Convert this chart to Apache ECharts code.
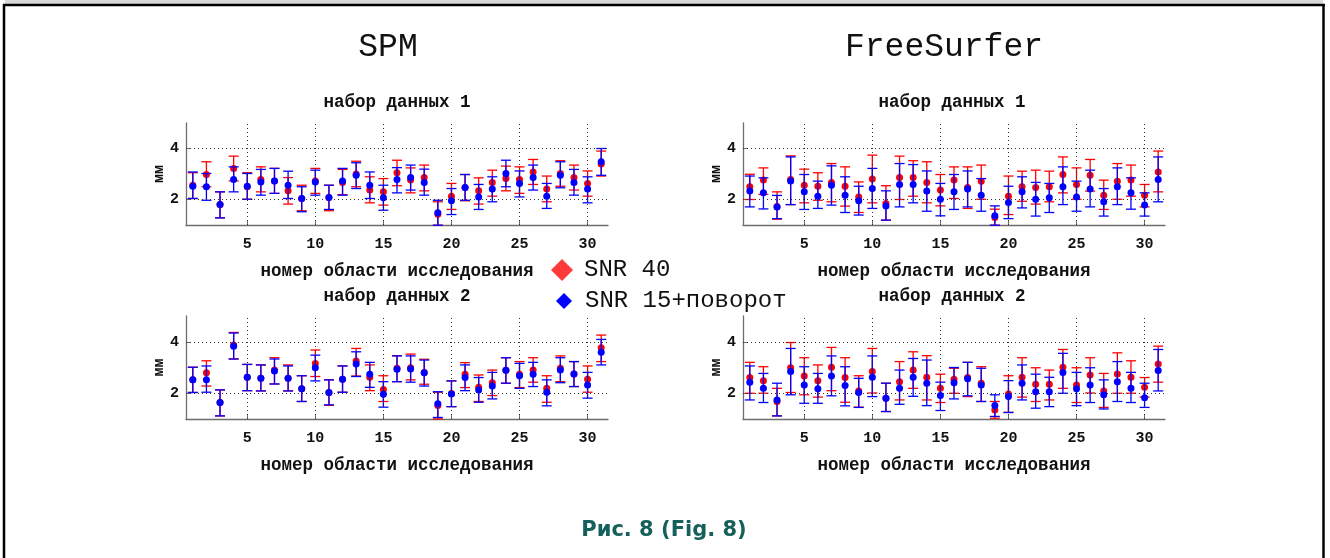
<!DOCTYPE html>
<html><head><meta charset="utf-8">
<script src="https://cdn.jsdelivr.net/npm/echarts@6/dist/echarts.min.js"></script>
<style>html,body{margin:0;padding:0;background:#fff}#c{width:1330px;height:558px}</style>
</head><body><div id="c"></div>
<script>
const regionIds = [1,2,3,4,5,6,7,8,9,10,11,12,13,14,15,16,17,18,19,20,21,22,23,24,25,26,27,28,29,30,31];
const xTicks = [5,10,15,20,25,30];
const yTicks = [2,4];
const seriesNames = ['SNR 40','SNR 15+поворот'];
const panelTitles = ['SPM','FreeSurfer'];
const subTitles = ['набор данных 1','набор данных 2'];
const xName = 'номер области исследования';
const yName = 'мм';
const caption = 'Рис. 8 (Fig. 8)';

// SPM, dataset 1
const spm1RedMean = [2.56,2.98,1.80,3.22,2.50,2.78,2.73,2.34,2.04,2.73,2.08,2.67,3.00,2.37,2.30,3.05,2.76,2.86,1.42,2.13,2.47,2.34,2.67,2.82,2.78,3.08,2.41,3.02,2.86,2.63,3.39];
const spm1RedLo   = [2.04,2.50,1.28,2.73,2.01,2.30,2.24,1.82,1.56,2.24,1.56,2.19,2.50,1.87,1.78,2.54,2.26,2.34,0.99,1.61,1.95,1.82,2.13,2.34,2.24,2.59,1.91,2.52,2.37,2.13,2.92];
const spm1RedHi   = [3.05,3.48,2.30,3.70,3.05,3.28,3.22,2.86,2.56,3.22,2.56,3.18,3.50,2.89,2.82,3.54,3.24,3.35,1.91,2.63,2.98,2.85,3.15,3.31,3.28,3.57,2.92,3.52,3.35,3.12,3.90];
const spm1BlueMean= [2.52,2.50,1.80,2.78,2.52,2.69,2.73,2.56,2.04,2.69,2.08,2.73,2.95,2.56,2.07,2.78,2.86,2.67,1.48,1.95,2.47,2.10,2.41,3.02,2.63,2.86,2.13,2.95,2.67,2.41,3.48];
const spm1BlueLo  = [2.04,1.97,1.28,2.30,2.01,2.17,2.24,2.04,1.52,2.17,1.61,2.17,2.43,2.04,1.58,2.26,2.37,2.17,0.99,1.41,1.97,1.61,1.91,2.50,2.10,2.37,1.65,2.46,2.17,1.87,2.95];
const spm1BlueHi  = [3.08,3.02,2.30,3.28,3.02,3.18,3.22,3.11,2.50,3.15,2.56,3.22,3.44,3.08,2.56,3.25,3.35,3.19,1.97,2.43,2.98,2.59,2.89,3.54,3.12,3.35,2.63,3.48,3.18,2.89,4.00];
// FreeSurfer, dataset 1
const fs1RedMean  = [2.50,2.76,1.73,2.78,2.56,2.52,2.67,2.52,2.10,2.80,1.84,2.86,2.86,2.67,2.37,2.76,2.47,2.72,1.29,2.13,2.50,2.47,2.50,2.98,2.59,2.95,2.17,2.72,2.76,2.17,3.08];
const fs1RedLo    = [2.00,2.20,1.23,1.80,1.87,1.97,1.91,1.74,1.49,1.87,1.19,2.00,2.13,1.87,1.75,2.04,1.65,2.01,0.99,1.41,1.93,1.82,1.91,2.26,2.01,2.33,1.61,2.01,2.13,1.71,2.30];
const fs1RedHi    = [2.99,3.24,2.30,3.71,3.19,3.05,3.41,3.28,2.69,3.74,2.54,3.70,3.52,3.48,2.98,3.28,3.28,3.35,1.62,2.92,3.11,3.15,3.11,3.67,3.24,3.57,2.76,3.41,3.35,2.59,3.90];
const fs1BlueMean = [2.33,2.26,1.71,2.73,2.30,2.13,2.56,2.17,1.95,2.43,1.75,2.59,2.59,2.33,2.01,2.30,2.41,2.17,1.36,1.88,2.30,2.01,2.07,2.50,2.10,2.41,1.91,2.50,2.26,1.78,2.78];
const fs1BlueLo   = [1.71,1.63,1.25,1.80,1.61,1.65,1.78,1.49,1.39,1.65,1.19,1.71,1.87,1.54,1.36,1.61,1.71,1.54,0.99,1.25,1.67,1.35,1.49,1.80,1.54,1.71,1.35,1.80,1.62,1.35,1.91];
const fs1BlueHi   = [2.92,2.85,2.16,3.67,2.98,2.72,3.32,2.89,2.52,3.22,2.34,3.41,3.37,3.12,2.63,2.98,3.12,2.82,1.75,2.52,2.89,2.67,2.63,3.28,2.72,3.15,2.43,3.24,2.85,2.26,3.67];
// SPM, dataset 2
const spm2RedMean = [2.52,2.80,1.64,3.87,2.62,2.58,2.90,2.58,2.17,3.16,2.03,2.54,3.25,2.62,2.15,2.97,2.99,2.81,1.52,1.99,2.74,2.23,2.41,2.89,2.74,2.90,2.19,2.97,2.75,2.54,3.77];
const spm2RedLo   = [2.03,2.28,1.12,3.33,2.10,2.09,2.36,2.09,1.68,2.65,1.53,2.04,2.67,2.10,1.68,2.45,2.52,2.35,1.00,1.48,2.22,1.68,1.91,2.39,2.22,2.43,1.65,2.45,2.26,2.04,3.23];
const spm2RedHi   = [3.01,3.26,2.13,4.36,3.12,3.10,3.38,3.10,2.68,3.68,2.52,3.06,3.74,3.10,2.68,3.46,3.52,3.32,2.04,2.48,3.19,2.71,2.90,3.38,3.23,3.38,2.68,3.45,3.23,3.06,4.26];
const spm2BlueMean= [2.52,2.52,1.64,3.83,2.62,2.58,2.86,2.58,2.17,2.99,2.03,2.54,3.14,2.74,1.96,2.93,2.94,2.80,1.59,1.97,2.61,2.13,2.28,2.89,2.68,2.74,2.04,2.90,2.75,2.32,3.59];
const spm2BlueLo  = [2.03,2.04,1.12,3.33,2.10,2.09,2.36,2.09,1.68,2.48,1.55,2.04,2.65,2.23,1.46,2.45,2.43,2.28,1.06,1.48,2.10,1.65,1.78,2.39,2.19,2.26,1.51,2.41,2.26,1.81,3.10];
const spm2BlueHi  = [3.01,3.06,2.13,4.34,3.12,3.10,3.33,3.06,2.68,3.48,2.52,3.06,3.61,3.20,2.45,3.45,3.45,3.29,2.06,2.48,3.10,2.61,2.81,3.38,3.16,3.20,2.52,3.38,3.23,2.81,4.09];
// FreeSurfer, dataset 2
const fs2RedMean  = [2.61,2.49,1.68,2.99,2.67,2.49,3.01,2.61,2.09,2.84,1.81,2.45,2.90,2.62,2.19,2.54,2.61,2.39,1.35,1.97,2.62,2.35,2.35,3.01,2.32,2.71,2.09,2.75,2.62,2.23,3.14];
const fs2RedLo    = [2.00,2.00,1.12,2.03,1.94,1.85,2.10,1.65,1.46,2.01,1.29,1.74,2.19,1.74,1.64,2.00,1.87,1.68,1.03,1.26,1.85,1.68,1.74,2.19,1.64,2.01,1.45,2.00,2.00,1.85,2.43];
const fs2RedHi    = [3.20,3.03,2.19,3.97,3.38,3.10,3.78,3.38,2.68,3.74,2.39,3.23,3.61,3.46,2.74,2.97,3.20,3.03,1.68,2.68,3.38,2.99,2.90,3.70,2.99,3.38,2.77,3.57,3.26,2.61,3.83];
const fs2BlueMean = [2.43,2.19,1.74,2.84,2.32,2.17,2.67,2.30,2.03,2.62,1.81,2.19,2.62,2.39,1.91,2.41,2.56,2.32,1.52,1.87,2.39,2.06,2.06,2.81,2.17,2.32,1.94,2.45,2.19,1.83,2.88];
const fs2BlueLo   = [1.74,1.64,1.12,1.94,1.61,1.61,1.90,1.51,1.45,1.87,1.29,1.57,1.88,1.52,1.33,1.78,1.90,1.68,1.10,1.25,1.74,1.42,1.48,2.00,1.52,1.64,1.39,1.68,1.64,1.45,2.09];
const fs2BlueHi   = [3.06,2.77,2.39,3.74,3.03,2.77,3.45,3.03,2.58,3.45,2.39,2.90,3.35,3.29,2.43,3.00,3.20,2.97,1.94,2.49,3.10,2.74,2.62,3.55,2.81,2.99,2.52,3.23,2.81,2.39,3.70];

const panels = [
  {red:[spm1RedMean,spm1RedLo,spm1RedHi], blue:[spm1BlueMean,spm1BlueLo,spm1BlueHi]},
  {red:[fs1RedMean,fs1RedLo,fs1RedHi],    blue:[fs1BlueMean,fs1BlueLo,fs1BlueHi]},
  {red:[spm2RedMean,spm2RedLo,spm2RedHi], blue:[spm2BlueMean,spm2BlueLo,spm2BlueHi]},
  {red:[fs2RedMean,fs2RedLo,fs2RedHi],    blue:[fs2BlueMean,fs2BlueLo,fs2BlueHi]}
];

const RED = '#ff0000', BLUE = '#0000ff';
const MONO = '"Liberation Mono","DejaVu Sans Mono",monospace';
const AX = '#6e6e6e';

const gridPos = [
  {left:186, top:123, width:422, height:102},
  {left:743, top:123, width:422, height:102},
  {left:186, top:316, width:422, height:103},
  {left:743, top:316, width:422, height:103}
];

function errRender(color){
  return function(params, api){
    const x = api.value(0), lo = api.value(1), hi = api.value(2);
    const a = api.coord([x, lo]), b = api.coord([x, hi]);
    const w = 5;
    const st = {stroke: color, lineWidth: 1.3};
    return {type:'group', children:[
      {type:'line', shape:{x1:a[0], y1:a[1], x2:b[0], y2:b[1]}, style:st},
      {type:'line', shape:{x1:a[0]-w, y1:a[1], x2:a[0]+w, y2:a[1]}, style:st},
      {type:'line', shape:{x1:b[0]-w, y1:b[1], x2:b[0]+w, y2:b[1]}, style:st}
    ]};
  };
}

const grids = [], xAxes = [], yAxes = [], series = [], yNameTexts = [];
gridPos.forEach((g, k) => {
  grids.push(Object.assign({containLabel:false}, g));
  xAxes.push({
    type:'value', gridIndex:k, min:0.5, max:31.5,
    name:xName, nameLocation:'middle', nameGap:38,
    nameTextStyle:{fontFamily:MONO, fontWeight:'bold', fontSize:17.5, color:'#111'},
    axisLine:{show:true, lineStyle:{color:AX, width:1.3}},
    axisTick:{show:true, inside:true, length:4, customValues:xTicks, lineStyle:{color:AX}},
    axisLabel:{customValues:xTicks, margin:12, fontFamily:MONO, fontWeight:'bold', fontSize:15, color:'#111'},
    splitLine:{show:false}
  });
  yAxes.push({
    type:'value', gridIndex:k, min:1, max:5,
    axisLine:{show:true, lineStyle:{color:AX, width:1.3}},
    axisTick:{show:true, inside:true, length:4, customValues:yTicks, lineStyle:{color:AX}},
    axisLabel:{customValues:yTicks, margin:7, fontFamily:MONO, fontWeight:'bold', fontSize:15, color:'#111'},
    splitLine:{show:false}
  });
  yNameTexts.push({type:'text', x:g.left - 27, y:g.top + g.height/2, rotation:Math.PI/2,
    style:{text:yName, font:'bold 15px '+MONO, fill:'#111', textAlign:'center', textVerticalAlign:'middle'}});
  // dotted grid lines
  series.push({
    type:'scatter', xAxisIndex:k, yAxisIndex:k, data:[], silent:true, z:1,
    markLine:{
      silent:true, symbol:['none','none'], label:{show:false}, animation:false,
      lineStyle:{type:[1,3], color:'#333', width:1},
      emphasis:{disabled:true},
      data: xTicks.map(v => ({xAxis:v})).concat(yTicks.map(v => ({yAxis:v})))
    }
  });
  const p = panels[k];
  [['red', RED, seriesNames[0], 2], ['blue', BLUE, seriesNames[1], 4]].forEach(([key, col, nm, z]) => {
    const [m, lo, hi] = p[key];
    series.push({
      type:'custom', name:nm, xAxisIndex:k, yAxisIndex:k, z:z, silent:true,
      renderItem: errRender(col), itemStyle:{color:col},
      encode:{x:0, y:[1,2]},
      data: regionIds.map((id, i) => [id, lo[i], hi[i]])
    });
    series.push({
      type:'scatter', name:nm, xAxisIndex:k, yAxisIndex:k, z:z+1, silent:true,
      symbol:'circle', symbolSize:7, itemStyle:{color:col, opacity:1},
      data: regionIds.map((id, i) => [id, m[i]])
    });
  });
});

const chart = echarts.init(document.getElementById('c'), null, {renderer:'canvas'});
chart.setOption({
  backgroundColor:'#ffffff',
  animation:false,
  grid: grids, xAxis: xAxes, yAxis: yAxes, series: series,
  legend: [
    {data:[{name:seriesNames[0], itemStyle:{color:'#ff3a3a', opacity:1}}], icon:'diamond', left:546, top:253,
     itemWidth:22, itemHeight:22, selectedMode:false,
     textStyle:{fontFamily:MONO, fontSize:24, color:'#111', padding:[0,0,0,6]}},
    {data:[{name:seriesNames[1], itemStyle:{color:BLUE, opacity:1}}], icon:'diamond', left:551, top:284,
     itemWidth:16, itemHeight:16, selectedMode:false,
     textStyle:{fontFamily:MONO, fontSize:24, color:'#111', padding:[0,0,0,8]}}
  ],
  graphic: [
    {type:'rect', shape:{x:5, y:0, width:1318, height:5}, style:{fill:'#d9d9d9'}, silent:true},
    {type:'line', shape:{x1:3, y1:5, x2:1325, y2:5}, style:{stroke:'#000', lineWidth:2.5}, silent:true},
    {type:'line', shape:{x1:4, y1:4, x2:4, y2:558}, style:{stroke:'#000', lineWidth:2.5}, silent:true},
    {type:'line', shape:{x1:1323.5, y1:4, x2:1323.5, y2:558}, style:{stroke:'#000', lineWidth:2.5}, silent:true},
    {type:'text', x:388, y:47, style:{text:panelTitles[0], font:'33px '+MONO, fill:'#111', textAlign:'center', textVerticalAlign:'middle'}},
    {type:'text', x:944, y:47, style:{text:panelTitles[1], font:'33px '+MONO, fill:'#111', textAlign:'center', textVerticalAlign:'middle'}},
    {type:'text', x:397, y:103, style:{text:subTitles[0], font:'bold 17.5px '+MONO, fill:'#111', textAlign:'center', textVerticalAlign:'middle'}},
    {type:'text', x:952, y:103, style:{text:subTitles[0], font:'bold 17.5px '+MONO, fill:'#111', textAlign:'center', textVerticalAlign:'middle'}},
    {type:'text', x:397, y:297, style:{text:subTitles[1], font:'bold 17.5px '+MONO, fill:'#111', textAlign:'center', textVerticalAlign:'middle'}},
    {type:'text', x:952, y:297, style:{text:subTitles[1], font:'bold 17.5px '+MONO, fill:'#111', textAlign:'center', textVerticalAlign:'middle'}},
    {type:'text', x:664, y:531, style:{text:caption, font:'bold 21px "DejaVu Sans","Noto Sans",sans-serif', fill:'#16605b', textAlign:'center', textVerticalAlign:'middle'}}
  ].concat(yNameTexts)
});
</script></body></html>
